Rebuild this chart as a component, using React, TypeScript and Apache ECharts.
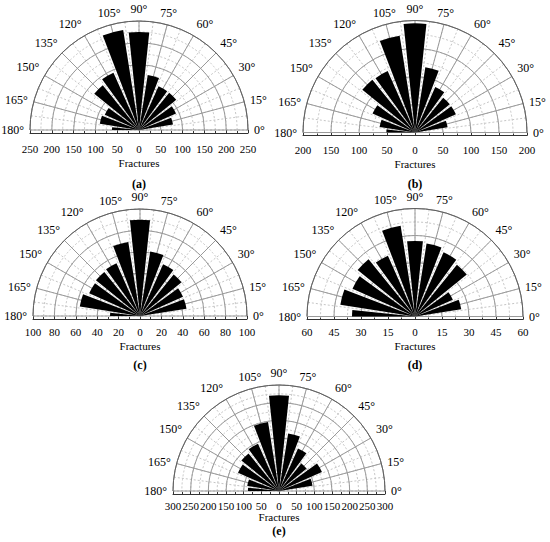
import React, { useEffect, useRef } from 'react';
import * as echarts from 'echarts';

// Bin centres (degrees) shared by every rose diagram
const binAngles = [0, 15, 30, 45, 60, 75, 90, 105, 120, 135, 150, 165, 180];

// Fracture counts per bin
const fracturesA = [0, 79, 93, 110, 110, 128, 225, 232, 144, 132, 86, 91, 62];
const fracturesB = [0, 59, 80, 80, 89, 118, 195, 175, 120, 121, 83, 64, 51];
const fracturesC = [0, 44, 44, 50, 53, 61, 90, 70, 54, 53, 52, 57, 28];
const fracturesD = [0, 26, 23, 37, 39, 41, 42, 51, 37, 41, 38, 42, 35];
const fracturesE = [0, 96, 133, 100, 132, 165, 271, 198, 146, 137, 127, 91, 88];

const panelLabels = ['(a)', '(b)', '(c)', '(d)', '(e)'];
const radialMax = [250, 200, 100, 60, 300];
const radialStep = [50, 50, 20, 15, 50];
const axisTitle = 'Fractures';

const panelValues = [fracturesA, fracturesB, fracturesC, fracturesD, fracturesE];

// layout (pixels)
const layout = [
  { cx: 139, cy: 130, r: 109, labelY: 184, labelMargin: 10, nameGap: 24 },
  { cx: 415, cy: 132.5, r: 112, labelY: 184, labelMargin: 9, nameGap: 23 },
  { cx: 140, cy: 316, r: 107, labelY: 365, labelMargin: 7, nameGap: 21 },
  { cx: 415, cy: 316.5, r: 108, labelY: 365, labelMargin: 7, nameGap: 21 },
  { cx: 279, cy: 491, r: 106, labelY: 531, labelMargin: 6, nameGap: 17 },
];

const FONT = '"Liberation Serif", "DejaVu Serif", serif';
const HALF_WIDTH = 6; // degrees
const SOLID = '#9a9a9a';
const DASHED = '#c6c6c6';

export default function App() {
  const ref = useRef<HTMLDivElement>(null);

  useEffect(() => {
    if (!ref.current) return;
    const chart = echarts.init(ref.current, undefined, { renderer: 'svg' });

    const polar: any[] = [];
    const angleAxis: any[] = [];
    const radiusAxis: any[] = [];
    const grid: any[] = [];
    const xAxis: any[] = [];
    const yAxis: any[] = [];
    const series: any[] = [];
    const graphic: any[] = [];
    const n = layout.length;

    // main (solid) polars: indices 0..n-1
    layout.forEach((L, i) => {
      polar.push({ center: [L.cx, L.cy], radius: L.r });
      angleAxis.push({
        polarIndex: i,
        type: 'value',
        min: 0,
        max: 180,
        interval: 15,
        startAngle: 0,
        endAngle: 180,
        clockwise: false,
        z: 1,
        axisLine: { show: true, lineStyle: { color: '#606060', width: 1 } },
        axisTick: { show: false },
        axisLabel: {
          formatter: '{value}°',
          margin: 6,
          color: '#000',
          fontFamily: FONT,
          fontSize: 12,
        },
        splitLine: { show: true, lineStyle: { color: SOLID, width: 1 } },
      });
      radiusAxis.push({
        polarIndex: i,
        type: 'value',
        min: 0,
        max: radialMax[i],
        interval: radialStep[i],
        z: 1,
        axisLine: { show: false },
        axisTick: { show: false },
        axisLabel: { show: false },
        splitLine: { show: true, lineStyle: { color: SOLID, width: 1 } },
      });
    });

    // dashed minor grid polars: indices n..2n-1
    layout.forEach((L, i) => {
      polar.push({ center: [L.cx, L.cy], radius: L.r });
      angleAxis.push({
        polarIndex: n + i,
        type: 'value',
        min: 0,
        max: 180,
        interval: 7.5,
        startAngle: 0,
        endAngle: 180,
        clockwise: false,
        z: 0,
        axisLine: { show: false },
        axisTick: { show: false },
        axisLabel: { show: false },
        splitLine: { show: true, lineStyle: { color: DASHED, width: 1, type: [2, 2] } },
      });
      radiusAxis.push({
        polarIndex: n + i,
        type: 'value',
        min: 0,
        max: radialMax[i],
        interval: radialStep[i] / 2,
        z: 0,
        axisLine: { show: false },
        axisTick: { show: false },
        axisLabel: { show: false },
        splitLine: { show: true, lineStyle: { color: DASHED, width: 1, type: [2, 2] } },
      });
    });

    layout.forEach((L, i) => {
      grid.push({
        left: L.cx - L.r,
        width: 2 * L.r,
        top: L.cy + 3 - 10,
        height: 10,
        outerBoundsMode: 'none',
      });
      xAxis.push({
        gridIndex: i,
        type: 'value',
        min: -radialMax[i],
        max: radialMax[i],
        interval: radialStep[i],
        position: 'bottom',
        name: axisTitle,
        nameLocation: 'middle',
        nameGap: L.nameGap,
        nameTextStyle: { color: '#000', fontFamily: FONT, fontSize: 11 },
        axisLine: { show: true, lineStyle: { color: '#333', width: 1 } },
        axisTick: { show: true, inside: true, length: 3, lineStyle: { color: '#333' } },
        minorTick: { show: true, splitNumber: 2, length: 2, lineStyle: { color: '#333' } },
        splitLine: { show: false },
        axisLabel: {
          margin: L.labelMargin,
          color: '#000',
          fontFamily: FONT,
          fontSize: 11,
          formatter: (v: number) => String(Math.abs(v)),
        },
      });
      yAxis.push({ gridIndex: i, type: 'value', show: false, min: 0, max: 1 });

      const vals = panelValues[i];
      series.push({
        type: 'custom',
        coordinateSystem: 'polar',
        polarIndex: i,
        z: 3,
        encode: { radius: 0, angle: 1 },
        data: binAngles.map((a, k) => [vals[k], a]),
        renderItem: (params: any, api: any) => {
          const rv = api.value(0);
          const av = api.value(1);
          if (!rv) return { type: 'group', children: [] };
          const cs = params.coordSys;
          const a0 = Math.max(0, av - HALF_WIDTH);
          const a1 = Math.min(180, av + HALF_WIDTH);
          const p0 = api.coord([rv, a0]);
          const p1 = api.coord([rv, a1]);
          const norm = (p: number[]) => {
            let ang = Math.atan2(p[1] - cs.cy, p[0] - cs.cx);
            if (ang > Math.PI / 2) ang -= 2 * Math.PI;
            return ang;
          };
          const rad = Math.hypot(p0[0] - cs.cx, p0[1] - cs.cy);
          const s0 = norm(p0);
          const s1 = norm(p1);
          return {
            type: 'sector',
            shape: {
              cx: cs.cx,
              cy: cs.cy,
              r0: 0,
              r: rad,
              startAngle: Math.min(s0, s1),
              endAngle: Math.max(s0, s1),
              clockwise: true,
            },
            style: { fill: '#000', stroke: null },
          };
        },
      });

      graphic.push({
        type: 'text',
        x: L.cx,
        y: L.labelY,
        style: {
          text: panelLabels[i],
          align: 'center',
          verticalAlign: 'middle',
          fontFamily: FONT,
          fontSize: 12,
          fontWeight: 'bold',
          fill: '#000',
        },
      });
    });

    chart.setOption({
      animation: false,
      backgroundColor: '#fff',
      polar,
      angleAxis,
      radiusAxis,
      grid,
      xAxis,
      yAxis,
      series,
      graphic,
    });

    return () => {
      chart.dispose();
    };
  }, []);

  return (
    <div
      ref={ref}
      style={{ position: 'absolute', left: 0, top: 0, width: 550, height: 542 }}
    />
  );
}
